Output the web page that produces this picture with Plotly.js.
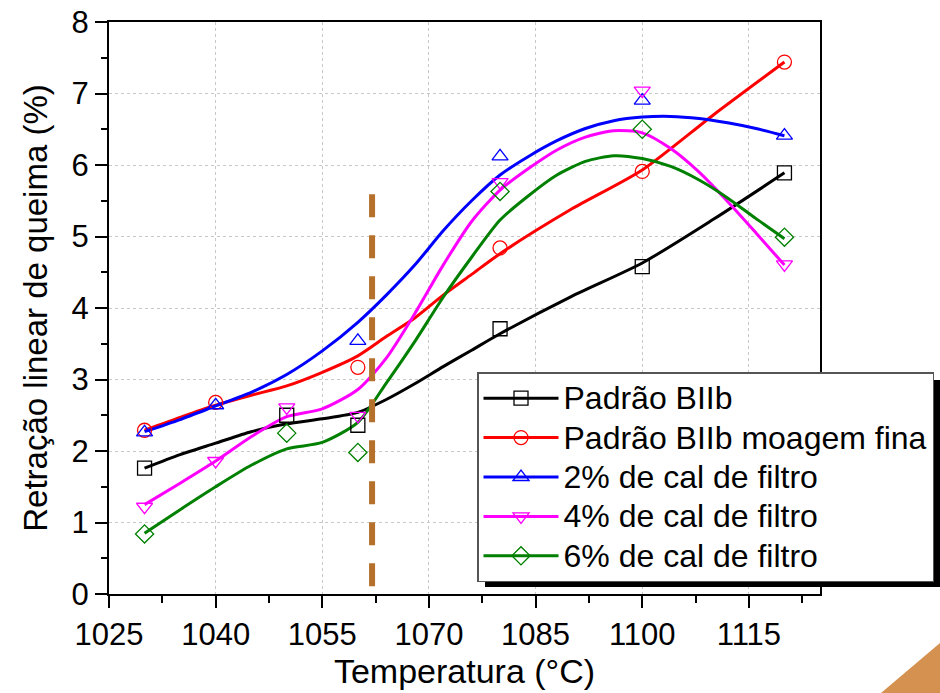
<!DOCTYPE html>
<html>
<head>
<meta charset="utf-8">
<script src="https://cdn.plot.ly/plotly-3.0.1.min.js"></script>
<style>html,body{margin:0;padding:0;background:#fff;}#chart{width:940px;height:693px;}</style>
</head>
<body>
<div id="chart"></div>
<script>
// ---- Data ----
const seriesNames = ["Padrão BIIb", "Padrão BIIb moagem fina", "2% de cal de filtro", "4% de cal de filtro", "6% de cal de filtro"];

// Measured points (markers)
const blackX = [1030, 1050, 1060, 1080, 1100, 1120];
const blackY = [1.76, 2.50, 2.36, 3.71, 4.58, 5.89];
const redX = [1030, 1040, 1060, 1080, 1100, 1120];
const redY = [2.29, 2.68, 3.17, 4.84, 5.91, 7.44];
const blueX = [1030, 1040, 1060, 1080, 1100, 1120];
const blueY = [2.26, 2.64, 3.54, 6.12, 6.90, 6.41];
const magentaX = [1030, 1040, 1050, 1060, 1080, 1100, 1120];
const magentaY = [1.22, 1.86, 2.61, 2.49, 5.76, 7.04, 4.61];
const greenX = [1030, 1050, 1060, 1080, 1100, 1120];
const greenY = [0.84, 2.25, 1.98, 5.63, 6.50, 4.99];

// Smoothed fit curves
const blackCurveX = [1030, 1035, 1040, 1045, 1050, 1055, 1060, 1064, 1068, 1072, 1076, 1080, 1090, 1100, 1110, 1120];
const blackCurveY = [1.76, 1.95, 2.11, 2.27, 2.38, 2.45, 2.54, 2.72, 2.94, 3.18, 3.41, 3.64, 4.16, 4.63, 5.24, 5.89];
const redCurveX = [1030, 1035, 1040, 1045, 1050, 1055, 1060, 1064, 1068, 1072, 1076, 1080, 1090, 1100, 1110, 1120];
const redCurveY = [2.29, 2.47, 2.64, 2.78, 2.91, 3.10, 3.33, 3.60, 3.86, 4.18, 4.47, 4.76, 5.38, 5.93, 6.70, 7.44];
const blueCurveX = [1030, 1035, 1040, 1045, 1050, 1055, 1060, 1064, 1068, 1072, 1076, 1080, 1084, 1088, 1092, 1096, 1100, 1104, 1108, 1112, 1116, 1120];
const blueCurveY = [2.27, 2.44, 2.63, 2.82, 3.07, 3.40, 3.80, 4.18, 4.60, 5.08, 5.50, 5.86, 6.12, 6.34, 6.51, 6.62, 6.67, 6.68, 6.65, 6.59, 6.51, 6.41];
const magentaCurveX = [1030, 1035, 1040, 1045, 1050, 1055, 1060, 1064, 1068, 1072, 1076, 1080, 1084, 1088, 1092, 1096, 1100, 1104, 1108, 1112, 1116, 1120];
const magentaCurveY = [1.25, 1.55, 1.86, 2.20, 2.48, 2.59, 2.86, 3.30, 3.92, 4.60, 5.21, 5.65, 5.95, 6.21, 6.39, 6.48, 6.45, 6.23, 5.90, 5.49, 5.05, 4.60];
const greenCurveX = [1030, 1035, 1040, 1045, 1050, 1055, 1060, 1064, 1068, 1072, 1076, 1080, 1084, 1088, 1092, 1096, 1100, 1104, 1108, 1112, 1116, 1120];
const greenCurveY = [0.85, 1.18, 1.50, 1.80, 2.03, 2.12, 2.40, 2.95, 3.53, 4.15, 4.71, 5.23, 5.57, 5.86, 6.05, 6.13, 6.09, 5.98, 5.79, 5.54, 5.25, 4.97];

// Reference vertical line
const refLineTemp = 1062;
const refLineTop = 5.59;

const xTicks = [1025, 1040, 1055, 1070, 1085, 1100, 1115];
const yTicks = [0, 1, 2, 3, 4, 5, 6, 7, 8];

// ---- Styling ----
const colors = ["#000000", "#ff0000", "#0000ff", "#ff00ff", "#008000"];
const symbols = ["square-open", "circle-open", "triangle-up-open", "triangle-down-open", "diamond-open"];
const pts = [[blackX, blackY], [redX, redY], [blueX, blueY], [magentaX, magentaY], [greenX, greenY]];
const curves = [[blackCurveX, blackCurveY], [redCurveX, redCurveY], [blueCurveX, blueCurveY], [magentaCurveX, magentaCurveY], [greenCurveX, greenCurveY]];

const traces = [];
for (let i = 0; i < 5; i++) {
  traces.push({
    x: curves[i][0], y: curves[i][1], mode: "lines", type: "scatter",
    line: {color: colors[i], width: 3, shape: "spline", smoothing: 0.7},
    showlegend: false, hoverinfo: "skip"
  });
}
for (let i = 0; i < 5; i++) {
  traces.push({
    x: pts[i][0], y: pts[i][1], mode: "markers", type: "scatter",
    marker: {symbol: symbols[i], size: 14, color: colors[i], line: {width: 1.3, color: colors[i]}},
    showlegend: false
  });
}
for (let i = 0; i < 5; i++) {
  traces.push({
    x: [null], y: [null], mode: "lines+markers", type: "scatter",
    name: '<span style="font-size:32px">' + seriesNames[i] + '</span>',
    line: {color: colors[i], width: 3},
    marker: {symbol: symbols[i], size: 14, color: colors[i], line: {width: 1.3, color: colors[i]}}
  });
}

const L = 109, R = 820, T = 22, B = 594;
function px(xp) { return (xp - L) / (R - L); }
function py(yp) { return (B - yp) / (B - T); }

const font = "Liberation Sans, Arial, sans-serif";

const layout = {
  width: 940, height: 693,
  margin: {l: L, r: 940 - R, t: T, b: 693 - B, pad: 0, autoexpand: false},
  paper_bgcolor: "#ffffff", plot_bgcolor: "#ffffff",
  font: {family: font, size: 31, color: "#000"},
  showlegend: true,
  xaxis: {
    range: [1025, 1125], tickvals: xTicks, ticktext: xTicks.map(String),
    ticks: "outside", ticklen: 12, tickwidth: 2, tickcolor: "#000",
    minor: {dtick: 7.5, tick0: 1025, ticks: "outside", ticklen: 7, tickwidth: 2, tickcolor: "#000", showgrid: false},
    showline: true, linewidth: 2, linecolor: "#000", mirror: true,
    showgrid: true, gridcolor: "#c8c8c8", griddash: "dot", gridwidth: 1,
    zeroline: false, tickfont: {size: 31, family: font},
    title: {text: "Temperatura (°C)", font: {size: 34, family: font}, standoff: 2},
    automargin: false
  },
  yaxis: {
    range: [0, 8], tickvals: yTicks, ticktext: yTicks.map(String),
    ticks: "outside", ticklen: 12, tickwidth: 2, tickcolor: "#000",
    minor: {dtick: 0.5, tick0: 0, ticks: "outside", ticklen: 6, tickwidth: 2, tickcolor: "#000", showgrid: false},
    showline: true, linewidth: 2, linecolor: "#000", mirror: true,
    showgrid: true, gridcolor: "#c8c8c8", griddash: "dot", gridwidth: 1,
    zeroline: false, tickfont: {size: 31, family: font},
    title: {text: "Retração linear de queima (%)", font: {size: 33, family: font}, standoff: 14},
    automargin: false
  },
  legend: {
    x: px(477), y: py(372), xanchor: "left", yanchor: "top",
    bgcolor: "#ffffff", bordercolor: "#555555", borderwidth: 1.5,
    font: {size: 28, family: font, color: "#000"},
    itemwidth: 75, tracegroupgap: 0
  },
  shapes: [
    {type: "line", xref: "x", yref: "y", x0: refLineTemp, x1: refLineTemp, y0: refLineTop, y1: 0,
     line: {color: "#b5702b", width: 6, dash: "23px,18px"}, layer: "above"},
    {type: "rect", xref: "paper", yref: "paper", x0: px(485), x1: px(944), y0: py(587), y1: py(380),
     fillcolor: "#000000", line: {width: 0}, layer: "above"},
    {type: "path", xref: "paper", yref: "paper",
     path: "M " + px(881) + " " + py(693) + " L " + px(940) + " " + py(693) + " L " + px(940) + " " + py(643) + " Z",
     fillcolor: "#d4914f", line: {width: 0}}
  ]
};

Plotly.newPlot("chart", traces, layout, {staticPlot: true, displayModeBar: false});
</script>
</body>
</html>
